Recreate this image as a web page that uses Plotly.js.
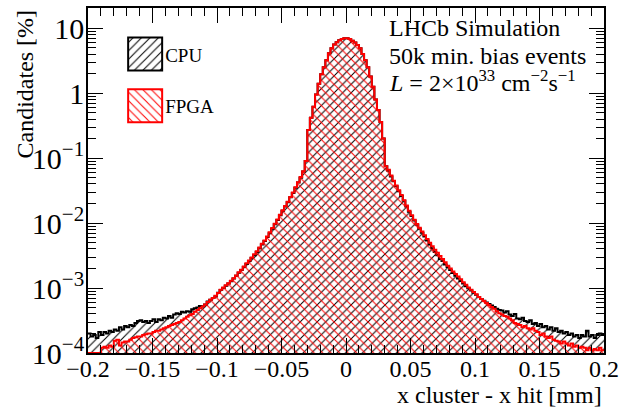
<!DOCTYPE html>
<html><head><meta charset="utf-8">
<script src="https://cdn.plot.ly/plotly-3.0.1.min.js"></script>
<style>html,body{margin:0;padding:0;background:#fff}#plot{width:635px;height:410px}</style>
</head><body><div id="plot"></div>
<script>
// Histogram binning: 200 bins from -0.2 to 0.2 mm
const binLow = -0.2;
const binWidth = 0.002;

// CPU, candidates [%] per bin
const cpuLeft = [2.0e-4,1.8e-4,1.9e-4,1.7e-4,2.1e-4,1.9e-4,2.1e-4,2.0e-4,2.2e-4,2.1e-4,
  2.3e-4,2.2e-4,2.5e-4,2.3e-4,2.6e-4,2.5e-4,2.7e-4,2.6e-4,2.9e-4,3.1e-4,
  3.2e-4,3.0e-4,3.1e-4,2.9e-4,3.1e-4,3.3e-4,3.0e-4,3.3e-4,3.2e-4,3.5e-4,
  3.4e-4,3.7e-4,3.5e-4,3.9e-4,4.1e-4,4.0e-4,4.3e-4,4.2e-4,4.4e-4,4.3e-4,
  4.7e-4,4.9e-4,5.0e-4,5.3e-4,5.2e-4,5.6e-4,6.2e-4,6.6e-4,7.0e-4,7.4e-4,
  8.5e-4,9.3e-4,1.0e-3,1.08e-3,1.17e-3,1.27e-3,1.4e-3,1.55e-3,1.72e-3,1.9e-3,
  2.1e-3,2.35e-3,2.6e-3,2.9e-3,3.2e-3,3.6e-3,4.1e-3,4.7e-3,5.3e-3,6.1e-3,
  7.0e-3,8.2e-3,9.6e-3,0.0112,0.0132,0.0155,0.018,0.021,0.025,0.029,
  0.035,0.042,0.05,0.062];
const cpuCore = [0.09,0.27,0.42,0.62,0.95,1.4,1.95,2.5,3.2,4.1,4.9,5.6,6.1,6.5,6.8,7.0,
  7.0,6.8,6.4,6.0,5.5,4.9,4.0,3.2,2.5,1.8,1.25,0.8,0.55,0.36,0.2,0.075];
const cpuRight = [0.064,0.052,0.044,0.037,0.031,0.026,0.022,0.018,0.015,0.0128,
  0.011,0.0094,0.0082,0.0071,0.0062,0.0054,0.0047,0.0041,0.0036,0.0032,
  0.0028,0.0026,0.0023,0.0021,0.0019,0.0017,0.00155,0.0014,0.00128,0.00117,
  0.00107,0.00099,0.00092,0.00085,0.00079,0.00073,0.00068,0.00064,0.0006,0.00057,
  0.00054,0.00051,0.00048,0.00046,0.00045,0.00042,0.00044,0.00039,0.00037,0.0004,
  0.00034,0.00033,0.00035,0.00031,0.0003,0.00032,0.00028,0.00029,0.00026,0.00028,
  0.00025,0.00026,0.00023,0.00025,0.00022,0.00024,0.00021,0.00022,0.0002,0.00021,
  0.00019,0.0002,0.00018,0.00019,0.00017,0.00019,0.00018,0.00022,0.00018,0.00019,
  0.00017,0.00019,0.0002,0.00019];

// FPGA, candidates [%] per bin
const fpgaLeft = [1.0e-4,1.0e-4,1.0e-4,1.0e-4,1.0e-4,1.2e-4,1.25e-4,1.2e-4,1.3e-4,1.25e-4,
  1.55e-4,1.6e-4,1.3e-4,1.45e-4,1.5e-4,1.5e-4,1.6e-4,1.7e-4,1.75e-4,1.8e-4,
  1.8e-4,1.9e-4,1.95e-4,2.0e-4,2.0e-4,2.1e-4,2.2e-4,2.2e-4,2.3e-4,2.4e-4,
  2.5e-4,2.6e-4,2.7e-4,2.8e-4,2.9e-4,3.0e-4,3.2e-4,3.4e-4,3.6e-4,3.8e-4,
  4.0e-4,4.3e-4,4.6e-4,4.9e-4,5.2e-4,5.6e-4,6.1e-4,6.6e-4,7.0e-4,7.6e-4,
  8.4e-4,9.4e-4,1.02e-3,1.1e-3,1.18e-3,1.3e-3,1.42e-3,1.56e-3,1.75e-3,1.92e-3,
  2.15e-3,2.4e-3,2.65e-3,2.95e-3,3.3e-3,3.7e-3,4.2e-3,4.8e-3,5.4e-3,6.2e-3,
  7.2e-3,8.4e-3,9.8e-3,0.0114,0.0134,0.0157,0.0183,0.0213,0.0253,0.0295,
  0.0355,0.0425,0.051,0.063];
const fpgaCore = [0.09,0.27,0.42,0.62,0.95,1.4,1.95,2.5,3.2,4.1,4.9,5.6,6.1,6.5,6.8,7.0,
  7.0,6.8,6.4,6.0,5.5,4.9,4.0,3.2,2.5,1.8,1.25,0.8,0.55,0.36,0.2,0.075];
const fpgaRight = [0.066,0.054,0.045,0.038,0.032,0.027,0.0225,0.0186,0.0155,0.0132,
  0.0113,0.0097,0.0085,0.0074,0.0065,0.0057,0.005,0.0044,0.0039,0.0035,
  0.0031,0.0028,0.0025,0.0022,0.002,0.0018,0.00165,0.0015,0.00136,0.00123,
  0.00112,0.00102,0.00094,0.00087,0.0008,0.00073,0.00068,0.00063,0.00059,0.00055,
  0.00051,0.00048,0.00044,0.00041,0.00039,0.00037,0.00036,0.00034,0.00032,0.00029,
  0.00028,0.00027,0.00025,0.00026,0.00024,0.00023,0.00024,0.00022,0.00021,0.00019,
  0.0002,0.00018,0.00017,0.00018,0.00016,0.000155,0.00015,0.00014,0.00015,0.00014,
  0.00013,0.00014,0.000125,0.00013,0.00012,0.000125,0.00012,0.00011,0.00012,0.00011,
  0.000115,0.00011,0.00012,0.00011];

const seriesNames = ['CPU', 'FPGA'];
const cpu = cpuLeft.concat(cpuCore, cpuRight);
const fpga = fpgaLeft.concat(fpgaCore, fpgaRight);

const edges = cpu.map((_, i) => binLow + i * binWidth).concat([binLow + cpu.length * binWidth]);
const stepY = v => v.concat([v[v.length - 1]]);

const FONT = 'Liberation Serif, Times New Roman, serif';

const traces = [
  {type: 'scatter', mode: 'lines', name: seriesNames[0], legendgroup: 'a',
   x: edges, y: stepY(cpu),
   line: {shape: 'hv', color: 'black', width: 2},
   fill: 'tozeroy', fillcolor: 'rgba(0,0,0,0)',
   fillpattern: {shape: '/', fgcolor: 'black', bgcolor: 'rgba(0,0,0,0)', size: 6, solidity: 0.17}},
  {type: 'scatter', mode: 'lines', name: seriesNames[1], legendgroup: 'b',
   x: edges, y: stepY(fpga),
   line: {shape: 'hv', color: '#ff0000', width: 2},
   fill: 'tozeroy', fillcolor: 'rgba(0,0,0,0)',
   fillpattern: {shape: '\\', fgcolor: '#ff0000', bgcolor: 'rgba(0,0,0,0)', size: 6, solidity: 0.17}}
];

const axisCommon = {
  ticks: 'inside', ticklen: 15, tickwidth: 1, tickcolor: 'black',
  showline: true, linewidth: 2, linecolor: 'black', mirror: 'ticks',
  showgrid: false, zeroline: false, tickfont: {family: FONT, size: 24, color: 'black'}
};

const layout = {
  width: 635, height: 410,
  margin: {l: 88, r: 31, t: 8, b: 57},
  paper_bgcolor: 'white', plot_bgcolor: 'white',
  font: {family: FONT, size: 24, color: 'black'},
  showlegend: true,
  legend: {x: 0.072, y: 0.921, xanchor: 'left', yanchor: 'top', bgcolor: 'rgba(0,0,0,0)',
           font: {family: FONT, size: 19, color: 'black'}, traceorder: 'grouped', tracegroupgap: 24},
  xaxis: Object.assign({}, axisCommon, {
    range: [-0.2, 0.2], tick0: 0, dtick: 0.05, ticklabelstandoff: -7,
    minor: {ticks: 'inside', ticklen: 8, dtick: 0.01, tickwidth: 1, tickcolor: 'black', showgrid: false}
  }),
  yaxis: Object.assign({}, axisCommon, {
    type: 'log', range: [-4, 1.311], dtick: 1, exponentformat: 'power', ticklabelstandoff: -3,
    minor: {ticks: 'inside', ticklen: 8, dtick: 'D1', tickwidth: 1, tickcolor: 'black', showgrid: false}
  }),
  annotations: [
    {xref: 'paper', yref: 'paper', x: 0.5795, y: 0.942, xanchor: 'left', yanchor: 'middle', showarrow: false,
     text: 'LHCb Simulation', font: {family: FONT, size: 24}},
    {xref: 'paper', yref: 'paper', x: 0.5795, y: 0.862, xanchor: 'left', yanchor: 'middle', showarrow: false,
     text: '50k min. bias events', font: {family: FONT, size: 24}},
    {xref: 'paper', yref: 'paper', x: 0.5795, y: 0.789, xanchor: 'left', yanchor: 'middle', showarrow: false,
     text: '<i>L</i> = 2×10<sup>33</sup> cm<sup>−2</sup>s<sup>−1</sup>', font: {family: FONT, size: 24}},
    {xref: 'paper', yref: 'paper', x: 1, y: -0.1217, xanchor: 'right', yanchor: 'middle', showarrow: false,
     text: 'x cluster - x hit [mm]', font: {family: FONT, size: 24}},
    {xref: 'paper', yref: 'paper', x: -0.124, y: 1, xanchor: 'center', yanchor: 'top', showarrow: false,
     textangle: -90, text: 'Candidates [%]', font: {family: FONT, size: 24}}
  ]
};

Plotly.newPlot('plot', traces, layout, {staticPlot: true}).then(gd => {
  const rect = 'M3,-16.5h34v33h-34Z';
  gd.querySelectorAll('.legend .traces').forEach(g => {
    const f = g.querySelector('.legendfill path');
    const l = g.querySelector('.legendlines path');
    if (f) f.setAttribute('d', rect);
    if (l) { l.setAttribute('d', rect); l.style.fill = 'none'; }
  });
});
</script>
</body></html>
